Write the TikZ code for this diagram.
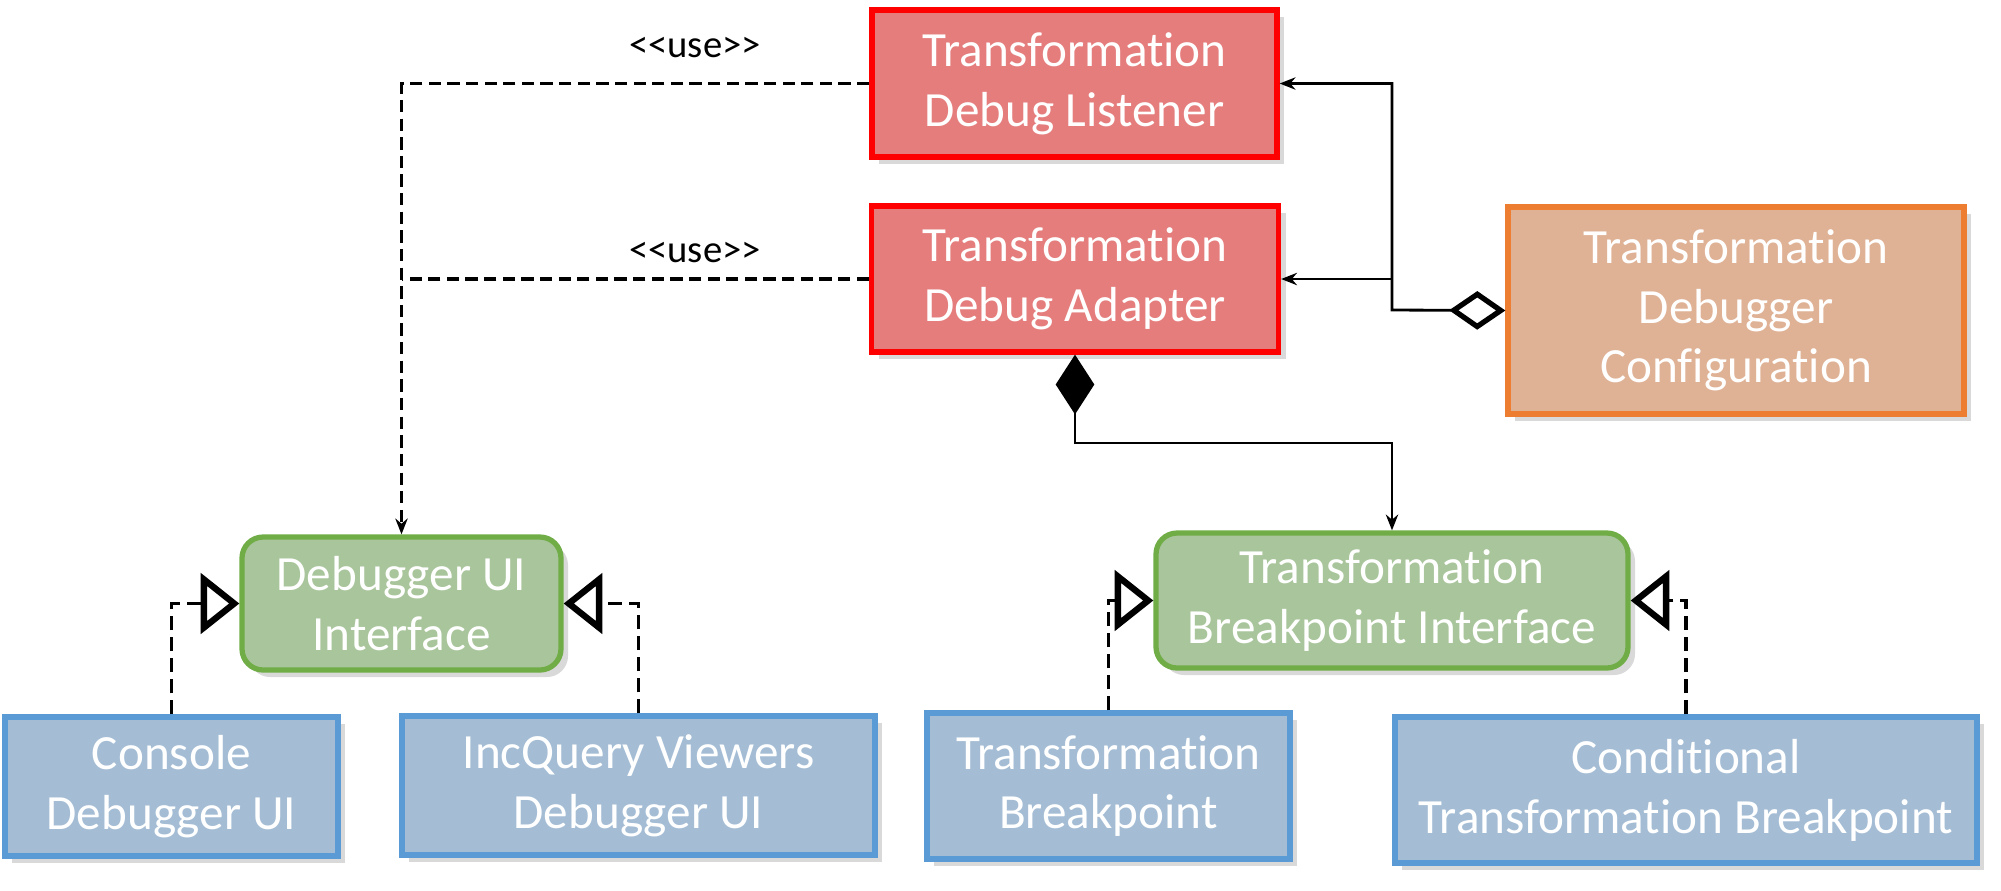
\documentclass[tikz,border=0pt]{standalone}
\usepackage{fontspec}
\newfontfamily\boxfont{Carlito}[Ligatures=NoCommon]
\usetikzlibrary{arrows.meta,shadows}

\definecolor{redfill}{HTML}{E57D7D}
\definecolor{redline}{HTML}{FF0000}
\definecolor{orangefill}{HTML}{DFB195}
\definecolor{orangeline}{HTML}{ED7D31}
\definecolor{greenfill}{HTML}{A9C59B}
\definecolor{greenline}{HTML}{70AD47}
\definecolor{bluefill}{HTML}{A4BDD5}
\definecolor{blueline}{HTML}{5B9BD5}

\begin{document}
\begin{tikzpicture}[x=0.1mm, y=-0.1mm,
    box/.style={draw, line width=1.5pt, align=center, text=white,
      font=\boxfont\fontsize{14}{17}\selectfont, inner sep=0pt,
      drop shadow={shadow xshift=2pt, shadow yshift=-2pt, opacity=0.3}},
    impl/.style={box, draw=redline, fill=redfill},
    config/.style={box, draw=orangeline, fill=orangefill},
    iface/.style={box, draw=greenline, fill=greenfill, rounded corners=6pt},
    ui/.style={box, draw=blueline, fill=bluefill},
    uselink/.style={line width=0.9pt, dash pattern=on 3.5pt off 1.8pt},
    uselabel/.style={font=\boxfont\fontsize{11}{13}\selectfont},
    assoc/.style={line width=0.8pt},
    realize/.style={line width=1pt, dash pattern=on 4pt off 2pt,
      -{Triangle[open, fill=white, length=11pt, width=17pt, line width=1.8pt]}},
    tip/.style={-{Stealth[length=4.5pt, width=3.5pt]}}
  ]

  \useasboundingbox (0,0) rectangle (2001,890);

  % Debugger core
  \node[impl, minimum width=40.5mm, minimum height=14.7mm] (listener) at (1074.5,83.5) {Transformation\\Debug Listener};
  \node[impl, minimum width=40.7mm, minimum height=14.6mm] (adapter) at (1075,279) {Transformation\\Debug Adapter};
  \node[config, minimum width=45.6mm, minimum height=20.7mm] (config) at (1736,310.5) {Transformation\\Debugger\\Configuration};

  % Interfaces
  \node[iface, minimum width=31.9mm, minimum height=13.3mm] (uiif) at (401.5,603.5) {Debugger UI\\Interface};
  \node[iface, minimum width=47.2mm, minimum height=13.5mm] (bpif) at (1392,600.5) {Transformation\\Breakpoint Interface};

  % Implementations
  \node[ui, minimum width=33.3mm, minimum height=13.9mm] (console) at (171.5,786.5) {Console\\Debugger UI};
  \node[ui, minimum width=47.3mm, minimum height=13.9mm] (viewers) at (638.5,785.5) {IncQuery Viewers\\Debugger UI};
  \node[ui, minimum width=36.3mm, minimum height=14.6mm] (tbp) at (1108.5,786) {Transformation\\Breakpoint};
  \node[ui, minimum width=58.2mm, minimum height=14.6mm] (cbp) at (1686,790) {Conditional\\Transformation Breakpoint};

  % <<use>> dependencies
  \draw[uselink, tip] (listener.west) -| (uiif.north);
  \draw[uselink] (adapter.west) -- (adapter.west -| uiif.north);
  \node[uselabel] (use1) at (695,48) {<<use>>};
  \node[uselabel] (use2) at (695,252) {<<use>>};

  % Configuration aggregation
  \coordinate (split) at (1392,310);
  \draw[assoc, {Diamond[open, fill=white, length=16pt, width=11pt, line width=1.5pt]}-{Stealth[length=4.5pt, width=3.5pt]}] (config.west) -- (split) |- (listener.east);
  \draw[assoc, tip] (split |- adapter.east) -- (adapter.east);

  % Breakpoint composition
  \coordinate (elbow) at (1075,443);
  \draw[assoc, {Diamond[length=17pt, width=11pt]}-{Stealth[length=4.5pt, width=3.5pt]}] (adapter.south) -- (elbow) -| (bpif.north);

  % Realizations
  \draw[realize] (console.north) |- (uiif.west);
  \draw[realize] (viewers.north) |- (uiif.east);
  \draw[realize] (tbp.north) |- (bpif.west);
  \draw[realize] (cbp.north) |- (bpif.east);

\end{tikzpicture}
\end{document}
